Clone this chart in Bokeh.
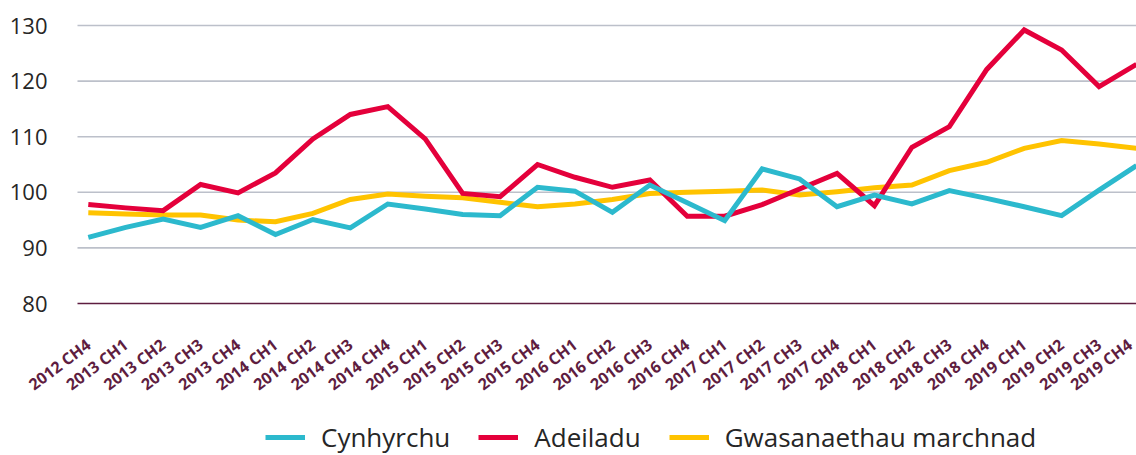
import math
from bokeh.plotting import figure
from bokeh.models import Range1d, FixedTicker, Legend, LegendItem
from bokeh.embed import file_html
from bokeh.resources import INLINE

quarters = ["2012 CH4", "2013 CH1", "2013 CH2", "2013 CH3", "2013 CH4",
            "2014 CH1", "2014 CH2", "2014 CH3", "2014 CH4",
            "2015 CH1", "2015 CH2", "2015 CH3", "2015 CH4",
            "2016 CH1", "2016 CH2", "2016 CH3", "2016 CH4",
            "2017 CH1", "2017 CH2", "2017 CH3", "2017 CH4",
            "2018 CH1", "2018 CH2", "2018 CH3", "2018 CH4",
            "2019 CH1", "2019 CH2", "2019 CH3", "2019 CH4"]

cynhyrchu = [91.9, 93.7, 95.2, 93.7, 95.8, 92.4, 95.1, 93.6, 97.9, 97.0,
             96.0, 95.8, 100.9, 100.2, 96.4, 101.3, 98.1, 94.9, 104.2, 102.4,
             97.4, 99.5, 97.9, 100.3, 98.9, 97.4, 95.8, 100.4, 104.8]

adeiladu = [97.8, 97.2, 96.7, 101.4, 99.9, 103.5, 109.6, 114.0, 115.4, 109.6,
            99.8, 99.2, 105.0, 102.7, 100.9, 102.2, 95.7, 95.7, 97.8, 100.6,
            103.4, 97.6, 108.1, 111.8, 122.1, 129.2, 125.6, 119.0, 123.0]

gwasanaethau = [96.3, 96.1, 95.9, 95.9, 95.0, 94.7, 96.2, 98.7, 99.7, 99.3,
                99.0, 98.2, 97.4, 97.9, 98.7, 99.8, 100.0, 100.2, 100.4, 99.5,
                100.1, 100.8, 101.3, 103.9, 105.4, 107.9, 109.3, 108.7, 107.9]

series_names = ["Cynhyrchu", "Adeiladu", "Gwasanaethau marchnad"]
y_ticks = [80, 90, 100, 110, 120, 130]

x = list(range(len(quarters)))
n_last = len(quarters) - 1

# Layout (pixels): the frame fills the whole canvas; the value area spans
# px 77..1136 horizontally and 25..303 vertically (130 at top, 80 at bottom).
W, H = 1136, 455
TOP, AXIS_Y = 25, 303
AREA_LEFT, FIRST_PT = 77, 87.8
px_per_x = (W - FIRST_PT) / n_last
x_left = -FIRST_PT / px_per_x
area_left = -(FIRST_PT - AREA_LEFT) / px_per_x
units_per_px = (y_ticks[-1] - y_ticks[0]) / (AXIS_Y - TOP)
y_bottom = y_ticks[0] - (H - AXIS_Y) * units_per_px
y_top = y_ticks[-1] + TOP * units_per_px

p = figure(width=W, height=H, output_backend="svg", toolbar_location=None,
           x_range=Range1d(x_left, n_last),
           y_range=Range1d(y_bottom, y_top),
           min_border_left=0, min_border_right=0, min_border_top=0,
           min_border_bottom=0)
p.outline_line_color = None
p.background_fill_color = "white"
p.border_fill_color = "white"

p.xgrid.grid_line_color = None
p.ygrid.grid_line_color = None

# horizontal gridlines across the value area only
grid_vals = y_ticks[1:]
p.segment(x0=[area_left] * len(grid_vals), x1=[n_last] * len(grid_vals),
          y0=grid_vals, y1=grid_vals, line_color="#BCC0CA", line_width=1.6)

p.yaxis.fixed_location = area_left
p.yaxis.ticker = FixedTicker(ticks=y_ticks)
p.yaxis.axis_line_color = None
p.yaxis.major_tick_line_color = None
p.yaxis.minor_tick_line_color = None
p.yaxis.major_label_standoff = 24
p.yaxis.major_label_text_font = "Open Sans"
p.yaxis.major_label_text_font_size = "22px"
p.yaxis.major_label_text_color = "#262626"

p.xaxis.fixed_location = y_ticks[0]
p.xaxis.bounds = (area_left, n_last)
p.xaxis.ticker = FixedTicker(ticks=x)
p.xaxis.major_label_overrides = {i: q for i, q in zip(x, quarters)}
p.xaxis.major_label_orientation = 0.65
p.xaxis.axis_line_color = "#5E1D40"
p.xaxis.axis_line_width = 1.6
p.xaxis.major_tick_line_color = None
p.xaxis.minor_tick_line_color = None
p.xaxis.major_label_standoff = 33
p.xaxis.major_label_text_font = "Open Sans"
p.xaxis.major_label_text_font_style = "bold"
p.xaxis.major_label_text_font_size = "16px"
p.xaxis.major_label_text_color = "#5E1D40"

r_gw = p.line(x, gwasanaethau, line_color="#FFC300", line_width=5, line_join="miter")
r_ad = p.line(x, adeiladu, line_color="#E4003B", line_width=5, line_join="miter")
r_cy = p.line(x, cynhyrchu, line_color="#2CB9CD", line_width=5, line_join="miter")

legend = Legend(items=[LegendItem(label=series_names[0], renderers=[r_cy]),
                       LegendItem(label=series_names[1], renderers=[r_ad]),
                       LegendItem(label=series_names[2], renderers=[r_gw])],
                orientation="horizontal", location=(265, 0),
                glyph_width=40, glyph_height=30, label_height=30,
                label_standoff=16, spacing=28, padding=0, margin=0,
                border_line_color=None, background_fill_alpha=0,
                label_text_font="Open Sans", label_text_font_size="26px",
                label_text_color="#262626")
p.add_layout(legend, "center")

open("out.html", "w").write(file_html(p, INLINE))
